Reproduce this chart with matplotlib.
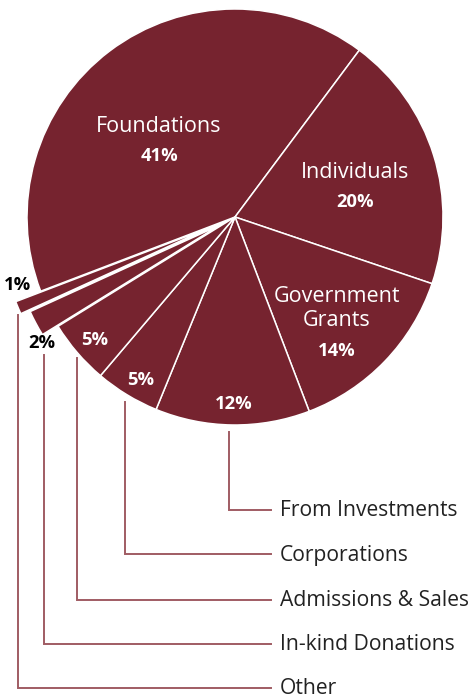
import matplotlib.pyplot as plt

# revenue sources, clockwise from Foundations
categories = ['Foundations', 'Individuals', 'Government\nGrants', 'From Investments',
              'Corporations', 'Admissions & Sales', 'In-kind Donations', 'Other']
shares = [41, 20, 14, 12, 5, 5, 2, 1]
explode_frac = [0, 0, 0, 0, 0, 0, 0.085, 0.13]

# which slices get a name inside, and which get a leader line + outside label
inner_named = ['Foundations', 'Individuals', 'Government\nGrants']
leader_cats = ['From Investments', 'Corporations', 'Admissions & Sales', 'In-kind Donations', 'Other']

W, H = 473, 700
MAROON = '#76232f'
LEADER = '#a05c63'
TEXT = '#222222'
FONT = ['Open Sans', 'DejaVu Sans']

# layout (pixel coords, y down); inner_pos = where the percentage sits
center_px = (235, 217)
radius_px = 208
inner_pos = [(159, 156), (355, 202), (337, 351), (234, 404), (141, 380), (95, 340)]
outer_pct_pos = {'In-kind Donations': (42, 343), 'Other': (18, 285)}
leader_x = [229, 125, 77, 44, 18]
leader_top = [432, 402, 358, 355, 315]
leader_label_y = [510, 554, 600, 644, 688]
leader_end_x = 271
label_x = 280
name_gap = 30      # pct centre -> last name line
name_line_h = 25   # spacing between name lines


def py(y):
    return H - y


fig = plt.figure(figsize=(W / 100, H / 100), dpi=100)
ax = fig.add_axes([0, 0, 1, 1])

start = 53.3 + 360 * shares[0] / 100
# pie's explode offset is in data units, so scale by the radius
ax.pie(shares, explode=[e * radius_px for e in explode_frac], startangle=start,
       counterclock=False, colors=[MAROON] * len(shares), radius=radius_px,
       center=(center_px[0], py(center_px[1])),
       wedgeprops=dict(edgecolor='white', linewidth=1.1, antialiased=True))

ax.set_xlim(0, W)
ax.set_ylim(0, H)
ax.set_aspect('auto')
ax.axis('off')

NAME_FS = 15.5
PCT_FS = 13.2

# labels inside the pie
for i, (x, y) in enumerate(inner_pos):
    cat = categories[i]
    ax.text(x, py(y), f'{shares[i]}%', ha='center', va='center', color='white',
            fontsize=PCT_FS, family=FONT, fontweight='bold')
    if cat in inner_named:
        lines = cat.split('\n')
        for k, line in enumerate(reversed(lines)):
            ly = y - name_gap - k * name_line_h
            ax.text(x, py(ly), line, ha='center', va='center', color='white',
                    fontsize=NAME_FS, family=FONT)

# percentage labels for the small exploded slices
for cat, (x, y) in outer_pct_pos.items():
    i = categories.index(cat)
    ax.text(x, py(y), f'{shares[i]}%', ha='center', va='center', color='black',
            fontsize=PCT_FS, family=FONT, fontweight='bold')

# leader lines + outside labels
for cat, lx, ly0, ly1 in zip(leader_cats, leader_x, leader_top, leader_label_y):
    ax.plot([lx, lx, leader_end_x], [py(ly0), py(ly1), py(ly1)],
            color=LEADER, linewidth=1.4, solid_joinstyle='miter')
    ax.text(label_x, py(ly1 + 1), cat, ha='left', va='center', color=TEXT,
            fontsize=15.2, family=FONT)

fig.savefig('out.png', dpi=100)
